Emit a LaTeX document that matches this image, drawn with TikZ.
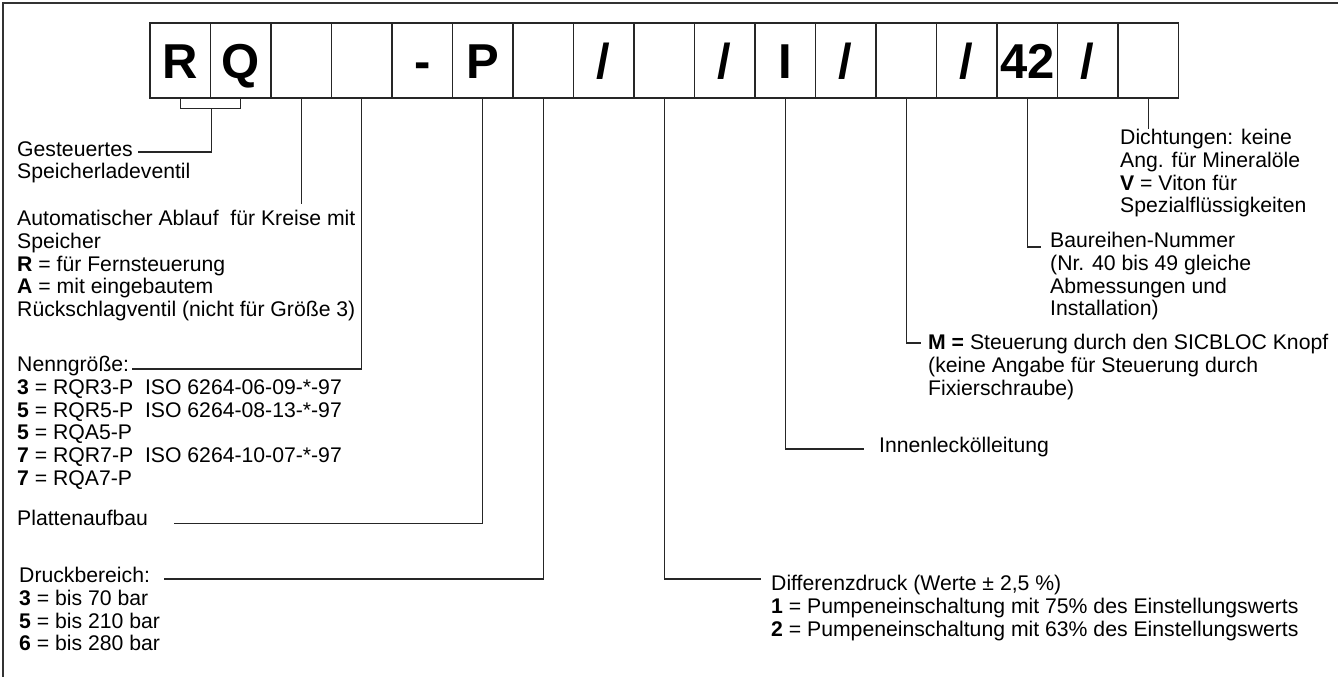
\documentclass[tikz,border=0pt]{standalone}
\usepackage{fontspec}
\setmainfont{Liberation Sans}
\usepackage{tikz}

\tikzset{
	feld/.style={draw=black!85,line width=1.2pt,minimum width=60.5pt,minimum height=75pt,inner sep=0pt,text height=35.1pt,text depth=0pt,font=\fontsize{49}{49}\selectfont\bfseries},
	txt/.style={anchor=base west,inner sep=0pt,font=\fontsize{21.2}{23}\selectfont},
	lin/.style={draw=black!85,line width=1.1pt}
}

\begin{document}
\begin{tikzpicture}[x=1pt,y=-1pt]
	\def\ls{22.8} %line spacing
	\useasboundingbox (0,0) rectangle (1338,677);
	\draw[black!80,line width=2pt] (1338,3)--(3,3)--(3,677); %frame
	
	%code fields
	\foreach \t [count=\i] in {R,Q,{},{},-,P,{},/,{},/,I,/,{},/,42,/,{}}{
	\node[feld] (b\i) at ({150+60.5*(\i-0.5)},60.5) {\t};
	}
	
	%left side
	\foreach \s [count=\j] in {Gesteuertes,Speicherladeventil}{
	\node[txt] (ges-\j) at (17,{156+\ls*(\j-1)}) {\s};
	}
	\foreach \s [count=\j] in {Automatischer Ablauf\ \ für Kreise mit,Speicher,\textbf{R} = für Fernsteuerung,\textbf{A} = mit eingebautem,Rückschlagventil (nicht für Größe 3)}{
	\node[txt] (auto-\j) at (17,{225.5+\ls*(\j-1)}) {\s};
	}
	\foreach \s [count=\j] in {Nenngröße:,\textbf{3} = RQR3-P\ \ ISO 6264-06-09-*-97,\textbf{5} = RQR5-P\ \ ISO 6264-08-13-*-97,\textbf{5} = RQA5-P,\textbf{7} = RQR7-P\ \ ISO 6264-10-07-*-97,\textbf{7} = RQA7-P}{
	\node[txt] (nenn-\j) at (17,{371.5+\ls*(\j-1)}) {\s};
	}
	\node[txt] (plat) at (17,525.5) {Plattenaufbau};
	\foreach \s [count=\j] in {Druckbereich:,\textbf{3} = bis 70 bar,\textbf{5} = bis 210 bar,\textbf{6} = bis 280 bar}{
	\node[txt] (druck-\j) at (19,{582.5+\ls*(\j-1)}) {\s};
	}
	
	%right side
	\foreach \s [count=\j] in {Dichtungen: keine,Ang. für Mineralöle,\textbf{V} = Viton für,Spezialflüssigkeiten}{
	\node[txt] (dicht-\j) at (1120,{144.5+\ls*(\j-1)}) {\s};
	}
	\foreach \s [count=\j] in {Baureihen-Nummer,{(Nr. 40 bis 49 gleiche},Abmessungen und,{Installation)}}{
	\node[txt] (baur-\j) at (1050,{247.5+\ls*(\j-1)}) {\s};
	}
	\foreach \s [count=\j] in {\textbf{M =} Steuerung durch den SICBLOC Knopf,{(keine Angabe für Steuerung durch},{Fixierschraube)}}{
	\node[txt] (mst-\j) at (928,{349.5+\ls*(\j-1)}) {\s};
	}
	\node[txt] (innen) at (879,452) {Innenleckölleitung};
	\foreach \s [count=\j] in {{Differenzdruck (Werte ± 2,5 \%)},\textbf{1} = Pumpeneinschaltung mit 75\% des Einstellungswerts,\textbf{2} = Pumpeneinschaltung mit 63\% des Einstellungswerts}{
	\node[txt] (diff-\j) at (771,{590.5+\ls*(\j-1)}) {\s};
	}
	
	%connectors
	\draw[lin] (b1.south) -- ++(0,10) -| (b2.south);
	\draw[lin] (b1.south east) ++(0,10) |- ([xshift=5pt,yshift=4pt]ges-1.base east);
	\draw[lin] (b3.south) -- ++(0,105);
	\draw[lin] (b4.south) |- ([xshift=3pt,yshift=2.5pt]nenn-1.base east);
	\draw[lin] (b6.south) |- ([xshift=26pt,yshift=2pt]plat.base east);
	\draw[lin] (b7.south) |- ([xshift=14pt,yshift=3.5pt]druck-1.base east);
	\draw[lin] (b9.south) |- ([xshift=-10pt,yshift=11.5pt]diff-1.base west);
	\draw[lin] (b11.south) |- ([xshift=-15pt,yshift=3pt]innen.base west);
	\draw[lin] (b13.south) |- ([xshift=-7pt,yshift=6.5pt]mst-1.base west);
	\draw[lin] (b15.south) |- ([xshift=-9pt,yshift=0.5pt]baur-1.base west);
	\draw[lin] (b17.south) -- ++(0,30);
\end{tikzpicture}
\end{document}
